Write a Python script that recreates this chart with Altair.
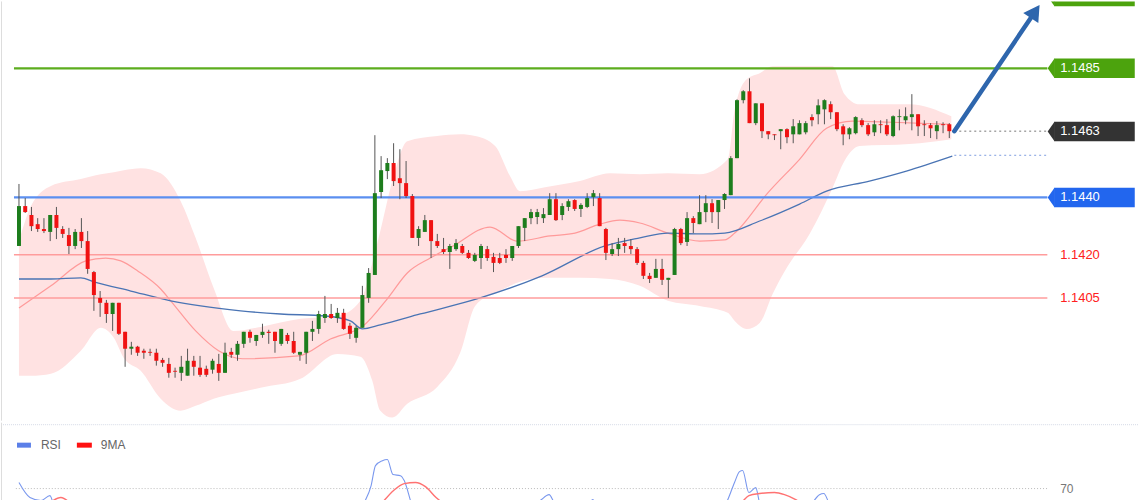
import altair as alt
import pandas as pd

# ---------------- candle data (price) ----------------
opens = [
1.14231,1.14370,1.14339,1.14307,1.14290,1.14280,1.14339,1.14290,1.14269,1.14231,
1.14280,1.14248,1.14140,1.14050,1.14033,1.13994,1.14033,1.13932,1.13873,1.13880,
1.13866,1.13862,1.13859,1.13834,1.13820,1.13796,1.13789,1.13779,1.13831,1.13807,
1.13803,1.13800,1.13820,1.13789,1.13862,1.13852,1.13890,1.13932,1.13900,1.13921,
1.13932,1.13932,1.13890,1.13921,1.13900,1.13852,1.13859,1.13932,1.13942,1.13980,
1.13994,1.13980,1.13998,1.13953,1.13911,1.13946,1.14050,1.14130,1.14419,1.14492,
1.14520,1.14467,1.14450,1.14405,1.14259,1.14280,1.14321,1.14248,1.14220,1.14210,
1.14220,1.14231,1.14207,1.14179,1.14189,1.14220,1.14193,1.14189,1.14200,1.14189,
1.14231,1.14294,1.14328,1.14332,1.14328,1.14339,1.14394,1.14339,1.14367,1.14391,
1.14360,1.14367,1.14401,1.14398,1.14290,1.14203,1.14220,1.14241,1.14231,1.14220,
1.14172,1.14127,1.14120,1.14151,1.14113,1.14130,1.14290,1.14245,1.14328,1.14307,
1.14349,1.14380,1.14349,1.14391,1.14408,1.14537,1.14739,1.14770,1.14659,1.14728,
1.14631,1.14620,1.14631,1.14638,1.14620,1.14620,1.14627,1.14680,1.14690,1.14707,
1.14725,1.14697,1.14648,1.14620,1.14624,1.14669,1.14652,1.14627,1.14655,1.14652,
1.14614,1.14680,1.14669,1.14680,1.14690,1.14655,1.14652,1.14631,1.14655,1.14655,
]
closes = [
1.14370,1.14349,1.14300,1.14290,1.14283,1.14339,1.14294,1.14273,1.14231,1.14280,
1.14248,1.14151,1.14060,1.14033,1.13994,1.14033,1.13925,1.13873,1.13880,1.13859,
1.13859,1.13859,1.13831,1.13824,1.13789,1.13793,1.13810,1.13831,1.13810,1.13782,
1.13782,1.13831,1.13789,1.13859,1.13852,1.13890,1.13932,1.13911,1.13921,1.13932,
1.13928,1.13900,1.13942,1.13900,1.13859,1.13862,1.13932,1.13942,1.13994,1.13994,
1.13980,1.13998,1.13942,1.13925,1.13946,1.14060,1.14137,1.14415,1.14495,1.14520,
1.14457,1.14450,1.14405,1.14259,1.14290,1.14321,1.14248,1.14231,1.14210,1.14231,
1.14241,1.14207,1.14189,1.14200,1.14231,1.14189,1.14172,1.14172,1.14189,1.14231,
1.14300,1.14328,1.14349,1.14349,1.14342,1.14394,1.14321,1.14370,1.14387,1.14360,
1.14374,1.14398,1.14415,1.14300,1.14207,1.14220,1.14238,1.14231,1.14220,1.14172,
1.14127,1.14116,1.14151,1.14113,1.14120,1.14290,1.14241,1.14328,1.14311,1.14349,
1.14380,1.14349,1.14391,1.14412,1.14537,1.14739,1.14770,1.14659,1.14728,1.14631,
1.14620,1.14617,1.14638,1.14610,1.14648,1.14659,1.14659,1.14669,1.14721,1.14739,
1.14697,1.14638,1.14620,1.14641,1.14680,1.14652,1.14620,1.14655,1.14652,1.14620,
1.14683,1.14683,1.14683,1.14690,1.14648,1.14652,1.14641,1.14652,1.14652,1.14631,
]
highs = [
1.14447,1.14398,1.14367,1.14328,1.14328,1.14339,1.14367,1.14300,1.14294,1.14290,
1.14328,1.14283,1.14144,1.14074,1.14043,1.14033,1.14033,1.13932,1.13897,1.13883,
1.13873,1.13873,1.13873,1.13841,1.13841,1.13807,1.13848,1.13873,1.13848,1.13848,
1.13814,1.13838,1.13855,1.13894,1.13876,1.13900,1.13932,1.13939,1.13921,1.13960,
1.13939,1.13932,1.13942,1.13928,1.13932,1.13862,1.13932,1.13970,1.14005,1.14057,
1.14029,1.14015,1.14012,1.13963,1.13953,1.14092,1.14154,1.14617,1.14544,1.14537,
1.14589,1.14568,1.14527,1.14412,1.14300,1.14339,1.14321,1.14273,1.14259,1.14238,
1.14255,1.14238,1.14217,1.14207,1.14238,1.14231,1.14207,1.14207,1.14220,1.14231,
1.14300,1.14328,1.14360,1.14360,1.14363,1.14415,1.14415,1.14380,1.14394,1.14394,
1.14380,1.14415,1.14426,1.14415,1.14294,1.14241,1.14259,1.14259,1.14255,1.14227,
1.14179,1.14137,1.14186,1.14186,1.14120,1.14294,1.14294,1.14349,1.14335,1.14408,
1.14408,1.14394,1.14391,1.14415,1.14544,1.14742,1.14774,1.14815,1.14728,1.14728,
1.14631,1.14620,1.14638,1.14641,1.14673,1.14669,1.14666,1.14690,1.14742,1.14742,
1.14735,1.14697,1.14655,1.14645,1.14683,1.14676,1.14659,1.14669,1.14669,1.14673,
1.14686,1.14707,1.14714,1.14760,1.14690,1.14669,1.14659,1.14666,1.14662,1.14659,
]
lows = [
1.14231,1.14346,1.14283,1.14280,1.14276,1.14248,1.14255,1.14259,1.14203,1.14220,
1.14224,1.14134,1.14005,1.13984,1.13963,1.13935,1.13921,1.13810,1.13852,1.13848,
1.13838,1.13848,1.13814,1.13810,1.13772,1.13772,1.13761,1.13779,1.13779,1.13775,
1.13775,1.13786,1.13761,1.13789,1.13841,1.13831,1.13876,1.13894,1.13883,1.13911,
1.13890,1.13859,1.13883,1.13890,1.13855,1.13831,1.13820,1.13900,1.13925,1.13963,
1.13977,1.13963,1.13939,1.13907,1.13894,1.13946,1.14033,1.14130,1.14398,1.14464,
1.14440,1.14394,1.14398,1.14259,1.14231,1.14280,1.14189,1.14224,1.14203,1.14151,
1.14214,1.14203,1.14186,1.14175,1.14151,1.14179,1.14140,1.14168,1.14172,1.14179,
1.14224,1.14248,1.14307,1.14307,1.14311,1.14339,1.14318,1.14321,1.14353,1.14353,
1.14332,1.14363,1.14370,1.14300,1.14182,1.14196,1.14196,1.14207,1.14203,1.14165,
1.14116,1.14102,1.14120,1.14095,1.14050,1.14130,1.14234,1.14231,1.14276,1.14307,
1.14314,1.14311,1.14290,1.14360,1.14408,1.14537,1.14728,1.14659,1.14652,1.14607,
1.14603,1.14600,1.14568,1.14589,1.14589,1.14620,1.14620,1.14648,1.14655,1.14655,
1.14673,1.14631,1.14582,1.14603,1.14620,1.14645,1.14614,1.14614,1.14624,1.14614,
1.14610,1.14634,1.14655,1.14634,1.14614,1.14614,1.14607,1.14603,1.14624,1.14607,
]

# ---------------- Bollinger band ----------------
band_i = [0, 1.92, 5.12, 9.91, 13.11, 15.19, 16.79, 19.5, 22.7, 25.9, 28.3, 31.18, 34.37,
          38.69, 45.08, 51.0, 54.68, 56.59, 57.87, 59.79, 62.19, 66.99, 70.66, 73.06, 76.26,
          78.66, 80.26, 84.25, 89.85, 94.64, 99.44, 103.92, 109.03, 113.51, 114.63, 116.55,
          118.63, 120.7, 122.94, 126.62, 130.3, 132.21, 134.61, 142.61, 149.32]
band_upper = [1.14248, 1.14370, 1.14440, 1.14464, 1.14481, 1.14488, 1.14495, 1.14502, 1.14484,
              1.14387, 1.14259, 1.14085, 1.13935, 1.13949, 1.13977, 1.13987, 1.14040, 1.14172,
              1.14283, 1.14457, 1.14596, 1.14614, 1.14620, 1.14614, 1.14579, 1.14474, 1.14422,
              1.14436, 1.14457, 1.14484, 1.14481, 1.14484, 1.14481, 1.14533, 1.14707, 1.14812,
              1.14833, 1.14857, 1.14857, 1.14857, 1.14857, 1.14760, 1.14725, 1.14725, 1.14683]
band_lower = [1.13779, 1.13779, 1.13786, 1.13866, 1.13946, 1.13911, 1.13841, 1.13796, 1.13699,
              1.13657, 1.13674, 1.13699, 1.13716, 1.13737, 1.13768, 1.13855, 1.13845, 1.13761,
              1.13657, 1.13633, 1.13681, 1.13740, 1.13859, 1.14022, 1.14067, 1.14092, 1.14106,
              1.14120, 1.14120, 1.14116, 1.14092, 1.14040, 1.14022, 1.13998, 1.13970, 1.13942,
              1.13963, 1.14064, 1.14154, 1.14273, 1.14433, 1.14527, 1.14579, 1.14586, 1.14603]

# ---------------- moving averages ----------------
mid_i = [0, 5.12, 10.71, 13.91, 16.31, 19.02, 22.7, 24.3, 28.3, 31.97, 35.81, 44.76, 49.88,
         55.16, 58.99, 62.19, 65.87, 69.54, 75.46, 79.78, 85.05, 89.05, 93.05, 96.24, 99.44,
         103.92, 109.03, 113.03, 114.63, 119.9, 125.02, 129.34, 133.49, 139.89, 149.0]
mid_v = [1.14015, 1.14092, 1.14179, 1.14189, 1.14179, 1.14144, 1.14081, 1.14040, 1.13935,
         1.13866, 1.13838, 1.13848, 1.13907, 1.13953, 1.14047, 1.14137, 1.14189, 1.14231,
         1.14297, 1.14248, 1.14266, 1.14276, 1.14307, 1.14321, 1.14311, 1.14276, 1.14248,
         1.14252, 1.14276, 1.14415, 1.14533, 1.14641, 1.14666, 1.14662, 1.14655]
ma_i = [0, 5.12, 9.91, 11.99, 17.91, 24.3, 29.1, 35.5, 41.89, 49.08, 53.08, 55.0, 57.87,
        64.27, 73.86, 83.77, 93.85, 99.44, 103.92, 109.03, 113.03, 118.63, 125.02, 129.34,
        136.21, 142.13, 149.48]
ma_v = [1.14116, 1.14116, 1.14120, 1.14106, 1.14074, 1.14040, 1.14022, 1.14005, 1.13994,
        1.13987, 1.13970, 1.13942, 1.13956, 1.13994, 1.14050, 1.14127, 1.14231, 1.14259,
        1.14276, 1.14273, 1.14276, 1.14318, 1.14377, 1.14422, 1.14457, 1.14492, 1.14544]

# ---------------- levels / labels ----------------
green_levels = [1.1485]
blue_levels = [1.1440]
red_levels = [1.1420, 1.1405]
box_prices = [1.1510, 1.1485, 1.1463, 1.1440]
box_texts = ["", "1.1485", "1.1463", "1.1440"]
box_colors = ["#4ca30d", "#4ca30d", "#333333", "#2266ee"]
red_texts = ["1.1420", "1.1405"]
last_price = 1.14631
last_ma = 1.14547
arrow_from = (149.8, 1.14631)
arrow_to = (162.75, 1.15048)

# ---------------- RSI ----------------
rsi_i = [0, 1.76, 3.52, 4.96, 5.9, 13.1, 30, 45, 53.9, 55.3, 56.4, 57.1, 58.2, 59.0, 59.9,
         61.1, 61.7, 62.8, 63.9, 75, 81.1, 82.0, 83.1, 84.9, 85.7, 87.0, 90.6, 91.9, 93.0,
         101.0, 112.2, 113.3, 114.6, 115.4, 115.9, 116.9, 118.0, 118.6, 119.9, 126.0, 127.1,
         128.2, 128.9, 129.7, 130.8, 140, 148.9]
rsi_v = [73.2, 65.3, 63.7, 66.3, 58, 45, 40, 48, 55, 62.6, 71.6, 82.1, 84.7, 85.3, 77.4, 76.8,
         74.2, 62.6, 52, 50, 58, 63.0, 63.2, 66.8, 62.6, 56, 58, 64.2, 56, 40, 58, 62.6, 73.2,
         78.9, 79.5, 67.9, 70.5, 62.6, 55, 58, 62.6, 66.8, 67.4, 62.6, 56, 50, 52]
ma9_i = [0, 3.5, 5.44, 6.71, 8.15, 9.9, 30, 56.3, 58.2, 60.0, 61.7, 63.5, 65.1, 66.8, 67.8,
         69.9, 90, 113.8, 115.7, 116.9, 118.6, 121.0, 122.6, 124.4, 125.2, 126.9, 149]
ma9_v = [55, 58, 63.7, 65.3, 62.6, 57, 45, 55, 62.6, 69.0, 72.6, 73.2, 71.0, 65.3, 62.6, 57,
         52, 58, 62.6, 66.3, 67.4, 67.9, 66.8, 64.2, 62.6, 58, 55]
rsi_level = 70

# ---------------- scales ----------------
XS = alt.Scale(domain=[-2.878, 179.38], nice=False, zero=False, padding=0)
YS = alt.Scale(domain=[1.136222, 1.150830], nice=False, zero=False, padding=0)
RS = alt.Scale(domain=[62.63, 104.7], nice=False, zero=False, padding=0)
LINE_X0, LINE_X1 = -0.8, 164.7
BOX_X0, BOX_X1, TIP_X, TXT_X = 165.78, 178.7, 165.3, 166.75
FONT = "Liberation Sans"

def X(f="i"):
    return alt.X(f + ":Q", scale=XS, axis=None)

def Y(f):
    return alt.Y(f + ":Q", scale=YS, axis=None)

candles = pd.DataFrame({"i": list(range(len(opens))), "open": opens, "close": closes,
                        "high": highs, "low": lows})
band = pd.DataFrame({"i": band_i, "upper": band_upper, "lower": band_lower})
mid = pd.DataFrame({"i": mid_i, "v": mid_v})
ma = pd.DataFrame({"i": ma_i, "v": ma_v})

band_area = alt.Chart(band).mark_area(color="#ffe2e2", interpolate="monotone").encode(
    x=X(), y=Y("upper"), y2="lower:Q")
mid_line = alt.Chart(mid).mark_line(color="#ff9a9a", strokeWidth=1.2, interpolate="monotone").encode(
    x=X(), y=Y("v"))
ma_line = alt.Chart(ma).mark_line(color="#4a74b4", strokeWidth=1.3, interpolate="monotone").encode(
    x=X(), y=Y("v"))

def hlines(prices, color, width):
    df = pd.DataFrame({"p": prices, "x0": LINE_X0, "x1": LINE_X1})
    return alt.Chart(df).mark_rule(color=color, strokeWidth=width).encode(
        x=X("x0"), x2="x1:Q", y=Y("p"))

g_line = hlines(green_levels, "#5cad1e", 2.2)
b_line = hlines(blue_levels, "#5b8ff0", 2.2)
r_line = hlines(red_levels, "#ff9c9c", 1.5)

dots = pd.DataFrame({"p": [last_price, last_ma], "x0": [arrow_from[0], arrow_from[0]],
                     "x1": [LINE_X1, LINE_X1], "c": ["#777777", "#7d9de0"]})
dot_lines = alt.Chart(dots).mark_rule(strokeWidth=1, strokeDash=[2, 3]).encode(
    x=X("x0"), x2="x1:Q", y=Y("p"), color=alt.Color("c:N", scale=None))

wick = alt.Chart(candles).mark_rule(color="#555555", strokeWidth=1).encode(
    x=X(), y=Y("low"), y2="high:Q")
body = alt.Chart(candles).mark_bar(size=4).encode(
    x=X(), y=Y("open"), y2="close:Q",
    color=alt.condition("datum.open > datum.close", alt.value("#f01212"), alt.value("#1d7d1d")))

arr = pd.DataFrame({"x0": [arrow_from[0]], "y0": [arrow_from[1]],
                    "x1": [arrow_to[0]], "y1": [arrow_to[1]]})
arrow_shaft = alt.Chart(arr).mark_rule(color="#2e66ad", strokeWidth=4.5, strokeCap="round").encode(
    x=X("x0"), x2="x1:Q", y=Y("y0"), y2="y1:Q")
arrow_head = alt.Chart(arr).mark_point(shape="triangle-up", filled=True, size=330, angle=34,
                                       color="#2e66ad", opacity=1).encode(x=X("x1"), y=Y("y1"))

boxes = pd.DataFrame({"p": box_prices, "t": box_texts, "c": box_colors,
                      "x0": BOX_X0, "x1": BOX_X1, "tx": TIP_X, "txt": TXT_X})
boxes["top"] = boxes["p"] + 0.00034
boxes["bot"] = boxes["p"] - 0.00034
box_rect = alt.Chart(boxes).mark_rect(clip=True).encode(
    x=X("x0"), x2="x1:Q", y=Y("top"), y2="bot:Q", color=alt.Color("c:N", scale=None))
box_tip = alt.Chart(boxes).mark_point(shape="M 0.35 -1 L -0.35 0 L 0.35 1 Z", filled=True,
                                      size=380, opacity=1, clip=True).encode(
    x=X("tx"), y=Y("p"), color=alt.Color("c:N", scale=None))
box_text = alt.Chart(boxes).transform_filter("datum.t != ''").mark_text(
    align="left", baseline="middle", color="white", font=FONT, fontSize=13).encode(
    x=X("txt"), y=Y("p"), text="t:N")
red_lab = pd.DataFrame({"p": red_levels, "t": red_texts, "txt": TXT_X})
red_text = alt.Chart(red_lab).mark_text(align="left", baseline="middle", color="#ff2020",
                                        font=FONT, fontSize=13).encode(
    x=X("txt"), y=Y("p"), text="t:N")

frame = pd.DataFrame({"k": [0]})
left_edge = alt.Chart(frame).mark_rule(color="#dddddd").encode(
    x=alt.value(0.5), y=alt.value(0), y2=alt.value(420))

main = alt.layer(band_area, mid_line, ma_line, g_line, b_line, r_line, wick, body,
                 dot_lines, arrow_shaft, arrow_head, box_rect, box_tip, box_text, red_text,
                 left_edge).properties(width=1140, height=420)

# ---------------- RSI panel ----------------
def RY(f):
    return alt.Y(f + ":Q", scale=RS, axis=None)

rsi_df = pd.DataFrame({"i": rsi_i, "v": rsi_v})
ma9_df = pd.DataFrame({"i": ma9_i, "v": ma9_v})
rsi_line = alt.Chart(rsi_df).mark_line(color="#7a98ee", strokeWidth=1.1, clip=True,
                                       interpolate="monotone").encode(x=X(), y=RY("v"))
ma9_line = alt.Chart(ma9_df).mark_line(color="#ff7272", strokeWidth=1.4, clip=True,
                                       interpolate="monotone").encode(x=X(), y=RY("v"))
lvl = pd.DataFrame({"v": [rsi_level], "x0": [-0.5], "x1": [LINE_X1], "t": [str(rsi_level)],
                    "txt": [TXT_X]})
lvl_line = alt.Chart(lvl).mark_rule(color="#bbbbbb", strokeDash=[1, 2], strokeWidth=1).encode(
    x=X("x0"), x2="x1:Q", y=RY("v"))
lvl_text = alt.Chart(lvl).mark_text(align="left", baseline="middle", color="#777777",
                                    font=FONT, fontSize=12).encode(
    x=X("txt"), y=RY("v"), text="t:N")
sep = alt.Chart(frame).mark_rule(color="#d5dae6", strokeDash=[1, 1]).encode(
    x=alt.value(0), x2=alt.value(1140), y=alt.value(2))
left_edge2 = alt.Chart(frame).mark_rule(color="#dddddd").encode(
    x=alt.value(0.5), y=alt.value(0), y2=alt.value(80))
leg_names = ["RSI", "9MA"]
leg_colors = ["#5b7fe8", "#ff1111"]
leg1 = alt.Chart(frame).mark_rect(color=leg_colors[0]).encode(
    x=alt.value(16), x2=alt.value(30), y=alt.value(20), y2=alt.value(25))
leg1t = alt.Chart(frame).mark_text(text=leg_names[0], align="left", baseline="middle",
                                   color="#666666", font=FONT, fontSize=12).encode(
    x=alt.value(40), y=alt.value(22.5))
leg2 = alt.Chart(frame).mark_rect(color=leg_colors[1]).encode(
    x=alt.value(76), x2=alt.value(91), y=alt.value(20), y2=alt.value(25))
leg2t = alt.Chart(frame).mark_text(text=leg_names[1], align="left", baseline="middle",
                                   color="#666666", font=FONT, fontSize=12).encode(
    x=alt.value(100), y=alt.value(22.5))

rsi = alt.layer(sep, lvl_line, lvl_text, rsi_line, ma9_line, leg1, leg1t, leg2, leg2t,
                left_edge2).properties(width=1140, height=80)

chart = alt.vconcat(main, rsi, spacing=0).resolve_scale(x="independent", y="independent").properties(
    padding=0, background="white").configure_view(strokeWidth=0).configure_concat(spacing=0)

chart.save("out.html", embed_options={"renderer": "svg", "actions": False})
